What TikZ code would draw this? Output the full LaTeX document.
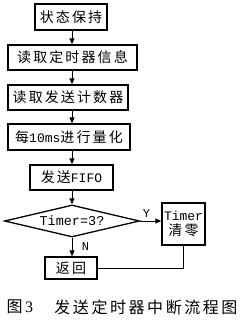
\documentclass[tikz,border=0pt]{standalone}
\usepackage{fontspec}
\setmainfont{Liberation Serif}
\newfontfamily\cjk[LetterSpace=15]{Noto Sans CJK SC}
\newfontfamily\capcjk[LetterSpace=16]{Noto Sans CJK SC}
\newfontfamily\mono{Liberation Mono}
\usetikzlibrary{shapes.geometric,arrows.meta}
\begin{document}
\begin{tikzpicture}[x=1pt,y=-1pt,
  boxn/.style={draw,line width=1.3pt,inner sep=0pt,font=\fontsize{14}{16}\selectfont\cjk},
  arr/.style={line width=1pt,-{Triangle[length=6pt,width=5pt]}},
  ln/.style={line width=1pt}]
\useasboundingbox (0,0) rectangle (242,323);
\coordinate (ax) at (72,0);
\node[boxn,minimum width=72pt,minimum height=26pt] (b1) at (71,17) {状态保持};
\node[boxn,minimum width=129pt,minimum height=25pt] (b2) at (72.5,57.5) {读取定时器信息};
\node[boxn,minimum width=120pt,minimum height=25pt] (b3) at (68,97.5) {读取发送计数器};
\node[boxn,minimum width=122pt,minimum height=26pt] (b4) at (69,137) {每{\mono\fontsize{13}{15}\selectfont 10ms}进行量化};
\node[boxn,minimum width=83pt,minimum height=25pt] (b5) at (71.5,177.5) {发送{\mono\fontsize{13}{15}\selectfont FIFO}};
\node[draw,line width=1.3pt,diamond,aspect=4.2,inner sep=0pt,minimum width=135pt,minimum height=32pt,font=\mono\fontsize{13.5}{15}\selectfont] (d) at (72,221) {Timer=3?};
\node[boxn,minimum width=43pt,minimum height=42pt,align=center] (t) at (183.5,224) {{\mono\fontsize{13}{14}\selectfont Timer}\\[-1pt]清零};
\node[boxn,minimum width=52pt,minimum height=22pt] (r) at (71,268) {返回};
\draw[arr] (b1.south -| ax) -- (b2.north -| ax);
\draw[arr] (b2.south -| ax) -- (b3.north -| ax);
\draw[arr] (b3.south -| ax) -- (b4.north -| ax);
\draw[arr] (b4.south -| ax) -- (b5.north -| ax);
\draw[arr] (b5.south -| ax) -- (d.north -| ax);
\draw[arr] (d.east) -- (d.east -| t.west) node[pos=0.3,above,font=\mono\fontsize{12}{14}\selectfont] (ly) {Y};
\draw[arr] (d.south -| ax) -- (r.north -| ax) node[pos=0.45,right,xshift=6pt,font=\mono\fontsize{12}{14}\selectfont] (ln) {N};
\draw[ln] (t.south) |- (r.east);
\node[anchor=west,font=\fontsize{16}{18}\selectfont] (c1) at (3,307) {\capcjk 图\,{\rmfamily 3}};
\node[anchor=east,font=\fontsize{16}{18}\selectfont\capcjk] (c2) at (241,307) {发送定时器中断流程图};
\end{tikzpicture}
\end{document}
